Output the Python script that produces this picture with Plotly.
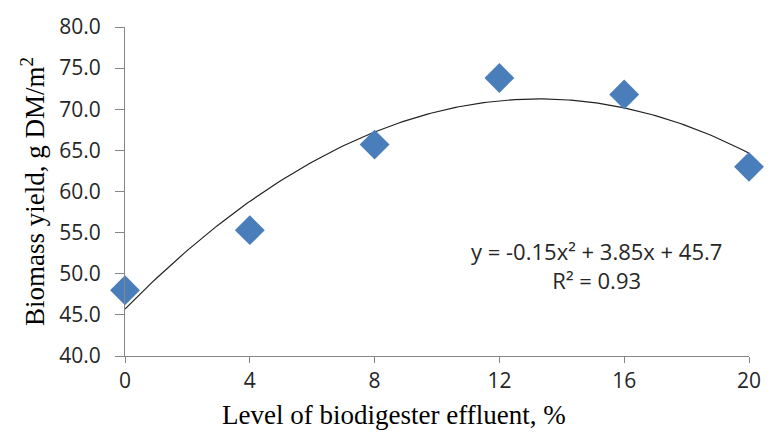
import numpy as np
import plotly.graph_objects as go

levels = [0, 4, 8, 12, 16, 20]
biomass = [48.0, 55.3, 65.7, 73.8, 71.8, 63.0]
x_ticks = [0, 4, 8, 12, 16, 20]
y_ticks = [40, 45, 50, 55, 60, 65, 70, 75, 80]
equation_text = "y = -0.15x² + 3.85x + 45.7"
r2_text = "R² = 0.93"
x_title = "Level of biodigester effluent, %"
y_title = "Biomass yield, g DM/m<sup>2</sup>"

coef = np.polyfit(levels, biomass, 2)
xs = np.linspace(min(levels), max(levels), 201)
ys = np.polyval(coef, xs)

sans = "Open Sans, Lato, sans-serif"
serif = "Liberation Serif, Times New Roman, serif"

fig = go.Figure()
fig.add_trace(go.Scatter(x=xs, y=ys, mode="lines",
                         line=dict(color="#222222", width=1.2),
                         hoverinfo="skip", showlegend=False))
fig.add_trace(go.Scatter(x=levels, y=biomass, mode="markers",
                         marker=dict(symbol="diamond", size=23, color="#4A7EBB",
                                     line=dict(width=0)),
                         cliponaxis=False, showlegend=False))

fig.add_annotation(x=0.755, y=0.274, xref="paper", yref="paper",
                   xanchor="center", yanchor="middle",
                   text=equation_text + "<br>" + r2_text, showarrow=False,
                   font=dict(family=sans, size=22, color="#262626"),
                   align="center")

fig.add_annotation(x=(397 - 125) / 632, y=-0.18, xref="paper", yref="paper",
                   xanchor="center", yanchor="middle", showarrow=False,
                   text=x_title, font=dict(family=serif, size=27, color="black"))

fig.update_layout(
    width=773, height=439,
    margin=dict(l=125, r=16, t=19, b=83),
    paper_bgcolor="white", plot_bgcolor="white",
    xaxis=dict(range=[0, 20], tickvals=x_ticks, ticktext=[str(v) for v in x_ticks],
               showgrid=False, zeroline=False, showline=True, linecolor="#868686",
               linewidth=1.2, ticks="outside", ticklen=6, tickcolor="#868686",
               tickfont=dict(family=sans, size=21, color="#262626")),
    yaxis=dict(range=[40, 80], tickvals=y_ticks, ticktext=[f"{v:.1f}" for v in y_ticks],
               showgrid=False, zeroline=False, showline=True, linecolor="#868686",
               linewidth=1.2, ticks="outside", ticklen=9, tickcolor="#868686",
               ticklabelstandoff=10,
               tickfont=dict(family=sans, size=21, color="#262626"),
               title=dict(text=y_title, standoff=6,
                          font=dict(family=serif, size=27, color="black"))),
)

fig.write_html("out.html")
